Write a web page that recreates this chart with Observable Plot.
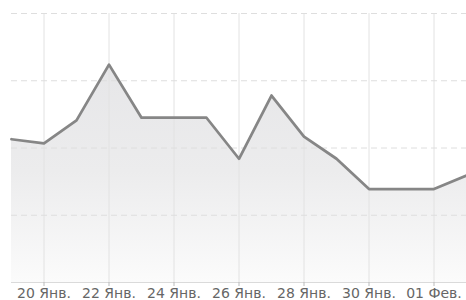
<!DOCTYPE html>
<html>
<head>
<meta charset="utf-8">
<script src="https://cdn.jsdelivr.net/npm/d3@7"></script>
<script src="https://cdn.jsdelivr.net/npm/@observablehq/plot@0.6"></script>
<style>
  html, body { margin: 0; padding: 0; background: #fff; }
  #chart { width: 466px; height: 300px; overflow: hidden; }
</style>
</head>
<body>
<div id="chart"></div>
<script>
const dates = ["2014-01-19","2014-01-20","2014-01-21","2014-01-22","2014-01-23","2014-01-24","2014-01-25","2014-01-26","2014-01-27","2014-01-28","2014-01-29","2014-01-30","2014-01-31","2014-02-01","2014-02-02"];
const values = [2.13, 2.07, 2.41, 3.24, 2.45, 2.45, 2.45, 1.84, 2.78, 2.17, 1.84, 1.39, 1.39, 1.39, 1.59];
const tickDates = ["2014-01-20","2014-01-22","2014-01-24","2014-01-26","2014-01-28","2014-01-30","2014-02-01"];
const tickLabels = ["20 Янв.","22 Янв.","24 Янв.","26 Янв.","28 Янв.","30 Янв.","01 Фев."];
const yTicks = [1, 2, 3, 4];

const data = dates.map((d, i) => ({date: new Date(d + "T00:00:00Z"), value: values[i]}));
const ticks = tickDates.map(d => new Date(d + "T00:00:00Z"));
const labelOf = new Map(ticks.map((t, i) => [+t, tickLabels[i]]));

const plot = Plot.plot({
  width: 466,
  height: 300,
  marginLeft: 11,
  marginRight: 0,
  marginTop: 13,
  marginBottom: 18,
  style: {fontFamily: "DejaVu Sans", fontSize: "14px", color: "#666", background: "#fff"},
  x: {type: "utc", domain: [data[0].date, data[data.length - 1].date]},
  y: {domain: [0, 4]},
  marks: [
    Plot.areaY(data, {x: "date", y: "value", fill: "url(#areaGrad)"}),
    Plot.gridX(ticks, {stroke: "#e2e2e2", strokeOpacity: 1, strokeWidth: 1}),
    Plot.gridY(yTicks, {stroke: "#dedede", strokeOpacity: 1, strokeDasharray: "6,4", strokeWidth: 1}),
    Plot.ruleY([0], {stroke: "#dadada", strokeWidth: 1}),
    Plot.lineY(data, {x: "date", y: "value", stroke: "#868686", strokeWidth: 2.75}),
    Plot.axisX(ticks, {tickSize: 4, tickPadding: 2, stroke: "#bbb", fill: "#666", fontSize: 14, tickFormat: d => labelOf.get(+d)}),
    Plot.axisY({ticks: [], label: null})
  ]
});

d3.select(plot).insert("defs", ":first-child").html(
  '<linearGradient id="areaGrad" gradientUnits="userSpaceOnUse" x1="0" y1="60" x2="0" y2="282">' +
  '<stop offset="0" stop-color="#e6e6e8"/>' +
  '<stop offset="0.5" stop-color="#ececed"/>' +
  '<stop offset="1" stop-color="#fbfbfb"/>' +
  '</linearGradient>'
);

document.getElementById("chart").appendChild(plot);
</script>
</body>
</html>
